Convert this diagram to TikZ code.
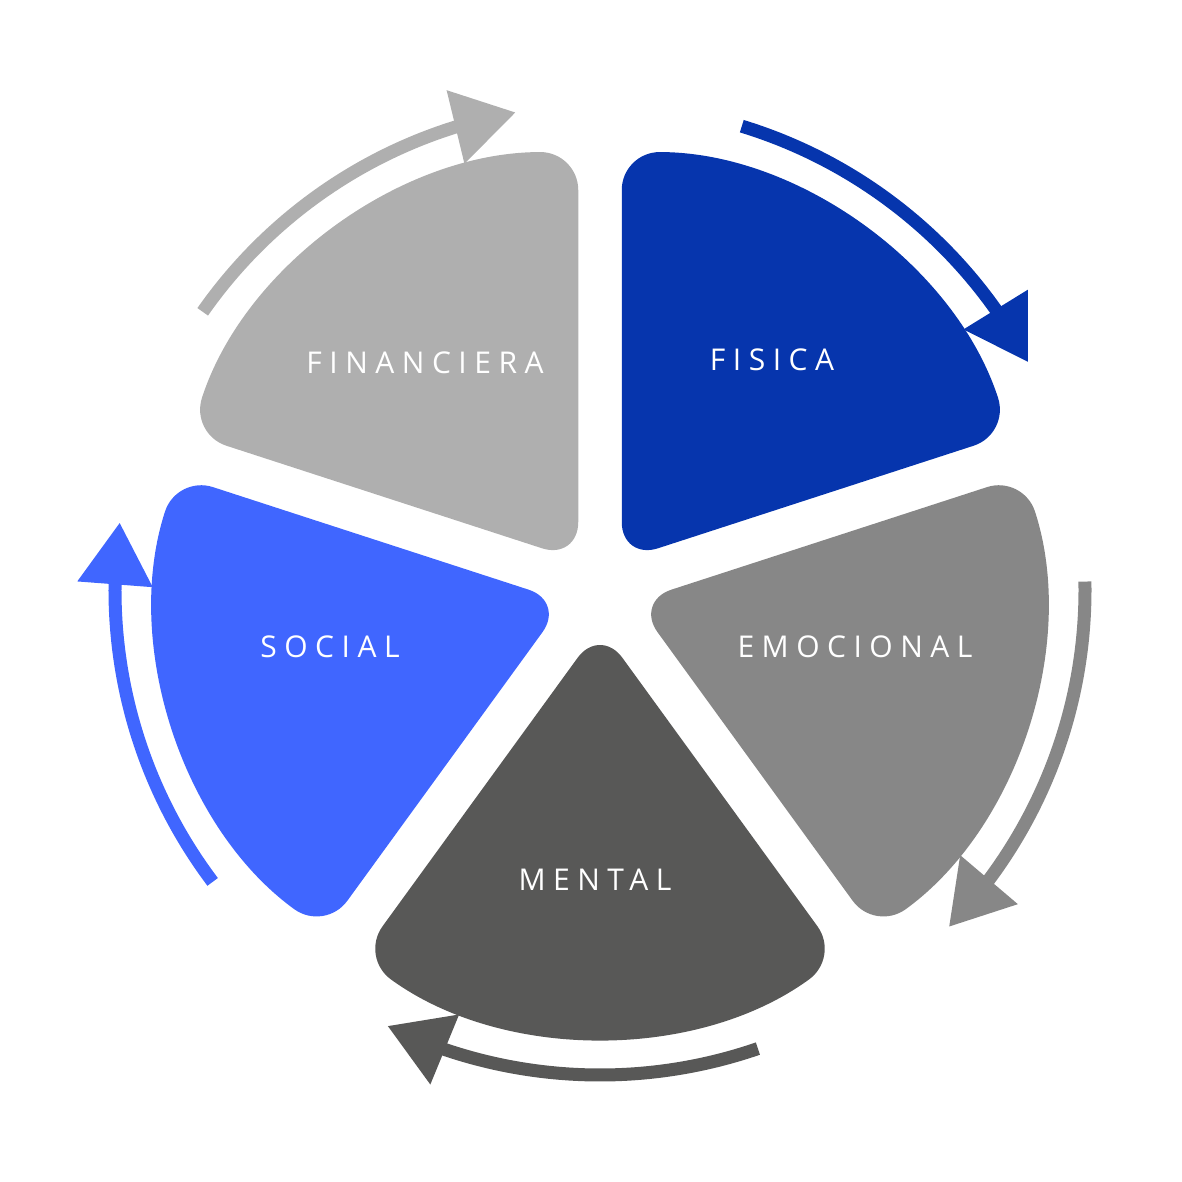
\documentclass[tikz,border=0pt]{standalone}
\usepackage{fontspec}
\setmainfont{Open Sans}
\usetikzlibrary{arrows.meta,bending}
\definecolor{cFis}{HTML}{0635AD}
\definecolor{cEmo}{HTML}{878787}
\definecolor{cMen}{HTML}{585857}
\definecolor{cSoc}{HTML}{4066FF}
\definecolor{cFin}{HTML}{AFAFAF}
\begin{document}
\begin{tikzpicture}[x=1pt,y=1pt,
  lab/.style={text=white,font=\fontsize{30}{30}\selectfont\addfontfeature{LetterSpace=25}},
  arr/.style={line width=13pt,-{Triangle[length=62pt,width=72pt,flex]}}]
\useasboundingbox (-600,590) rectangle (582,-592);
\foreach \b/\c in {54/cFis,-18/cEmo,-90/cMen,-162/cSoc,126/cFin}{
  \fill[\c,rounded corners=38pt] (\b:37) -- ++(\b+36:408) arc[start angle=\b+36,end angle=\b-36,radius=408] -- cycle;
}
\foreach \b/\c in {54/cFis,-18/cEmo,-90/cMen,-162/cSoc,126/cFin}{
  \draw[arr,\c] (\b+19:485) arc[start angle=\b+19,end angle=\b-26,radius=485];
}
\node[lab] (fis) at (172,230) {FISICA};
\node[lab] (emo) at (255,-57) {EMOCIONAL};
\node[lab] (men) at (-5,-290) {MENTAL};
\node[lab] (soc) at (-270,-57) {SOCIAL};
\node[lab] (fin) at (-175,227) {FINANCIERA};
\end{tikzpicture}
\end{document}
